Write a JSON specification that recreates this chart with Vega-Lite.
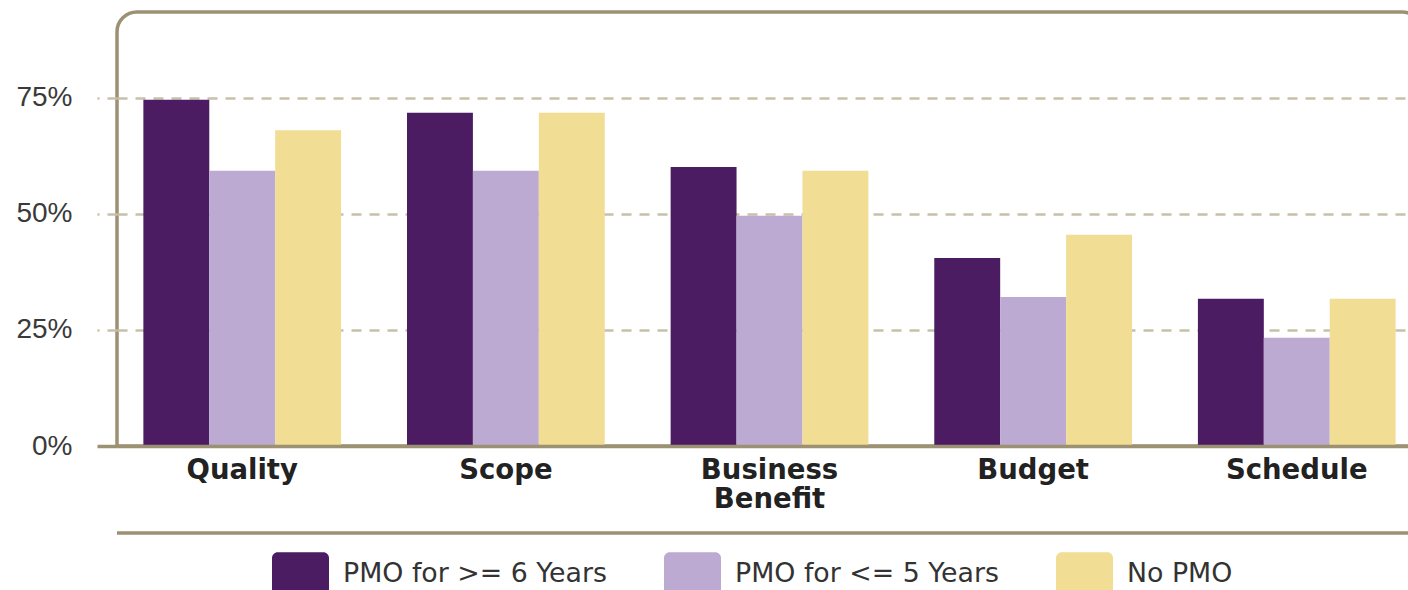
{
  "$schema": "https://vega.github.io/schema/vega-lite/v6.json",
  "width": 1305,
  "height": 434,
  "autosize": {"type": "none"},
  "padding": {"left": 117, "top": 12, "right": 0, "bottom": 144},
  "background": "white",
  "data": {
    "values": [
      {"category": "Quality", "series": "PMO for >= 6 Years", "value": 74.6},
      {"category": "Quality", "series": "PMO for <= 5 Years", "value": 59.3},
      {"category": "Quality", "series": "No PMO", "value": 68.0},
      {"category": "Scope", "series": "PMO for >= 6 Years", "value": 71.8},
      {"category": "Scope", "series": "PMO for <= 5 Years", "value": 59.3},
      {"category": "Scope", "series": "No PMO", "value": 71.8},
      {"category": "Business Benefit", "series": "PMO for >= 6 Years", "value": 60.1},
      {"category": "Business Benefit", "series": "PMO for <= 5 Years", "value": 49.6},
      {"category": "Business Benefit", "series": "No PMO", "value": 59.3},
      {"category": "Budget", "series": "PMO for >= 6 Years", "value": 40.5},
      {"category": "Budget", "series": "PMO for <= 5 Years", "value": 32.1},
      {"category": "Budget", "series": "No PMO", "value": 45.5},
      {"category": "Schedule", "series": "PMO for >= 6 Years", "value": 31.7},
      {"category": "Schedule", "series": "PMO for <= 5 Years", "value": 23.3},
      {"category": "Schedule", "series": "No PMO", "value": 31.7}
    ]
  },
  "layer": [
    {
      "mark": {"type": "bar"},
      "encoding": {
        "x": {
          "field": "category",
          "type": "nominal",
          "sort": ["Quality", "Scope", "Business Benefit", "Budget", "Schedule"],
          "scale": {"paddingInner": 0.25, "paddingOuter": 0.1},
          "axis": {
            "title": null,
            "domainColor": "#9c9172",
            "domainWidth": 3.5,
            "ticks": false,
            "labelAngle": 0,
            "labelFont": "DejaVu Sans",
            "labelFontSize": 27.5,
            "labelFontWeight": "bold",
            "labelColor": "#222222",
            "labelPadding": 10,
            "labelLineHeight": 29,
            "labelExpr": "datum.label == 'Business Benefit' ? ['Business', 'Benefit'] : datum.label",
            "zindex": 1
          }
        },
        "xOffset": {
          "field": "series",
          "type": "nominal",
          "sort": ["PMO for >= 6 Years", "PMO for <= 5 Years", "No PMO"],
          "scale": {"paddingInner": 0, "paddingOuter": 0}
        },
        "y": {
          "field": "value",
          "type": "quantitative",
          "scale": {"domain": [0, 93.5], "nice": false},
          "axis": {
            "title": null,
            "values": [0, 25, 50, 75],
            "labelExpr": "datum.value + '%'",
            "domain": false,
            "tickSize": 20,
            "tickColor": {"condition": {"test": "datum.value === 0", "value": "#9c9172"}, "value": "#c8c0aa"},
            "tickWidth": {"condition": {"test": "datum.value === 0", "value": 3.5}, "value": 2.5},
            "tickDash": {"condition": {"test": "datum.value === 0", "value": []}, "value": [10, 8]},
            "grid": true,
            "gridColor": "#c8c0aa",
            "gridWidth": 2.5,
            "gridDash": [10, 8],
            "gridOpacity": {"condition": {"test": "datum.value === 0", "value": 0}, "value": 1},
            "labelFont": "Liberation Sans",
            "labelFontSize": 28,
            "labelColor": "#3a3a3a",
            "labelPadding": 25
          }
        },
        "color": {
          "field": "series",
          "type": "nominal",
          "sort": ["PMO for >= 6 Years", "PMO for <= 5 Years", "No PMO"],
          "scale": {
            "domain": ["PMO for >= 6 Years", "PMO for <= 5 Years", "No PMO"],
            "range": ["#4b1c62", "#bcaad3", "#f1dd94"]
          },
          "legend": {
            "title": null,
            "orient": "none",
            "legendX": 155,
            "legendY": 533,
            "direction": "horizontal",
            "columns": 3,
            "columnPadding": 57,
            "padding": 0,
            "symbolType": "M-0.8,-0.75 H0.8 A0.2,0.2 0 0 1 1,-0.55 V0.55 A0.2,0.2 0 0 1 0.8,0.75 H-0.8 A0.2,0.2 0 0 1 -1,0.55 V-0.55 A0.2,0.2 0 0 1 -0.8,-0.75 Z",
            "symbolSize": 3249,
            "symbolStrokeWidth": 0,
            "symbolOpacity": 1,
            "labelFont": "DejaVu Sans",
            "labelFontSize": 26.8,
            "labelColor": "#333333",
            "labelOffset": 14,
            "labelLimit": 400
          }
        }
      }
    },
    {
      "data": {"values": [{"level": -18.75}]},
      "mark": {"type": "rule", "clip": false, "color": "#9c9172", "strokeWidth": 3.5},
      "encoding": {"y": {"field": "level", "type": "quantitative"}}
    }
  ],
  "config": {
    "view": {"stroke": "#9c9172", "strokeWidth": 3.5},
    "style": {"cell": {"cornerRadiusTopLeft": 20, "cornerRadiusTopRight": 20}}
  }
}
